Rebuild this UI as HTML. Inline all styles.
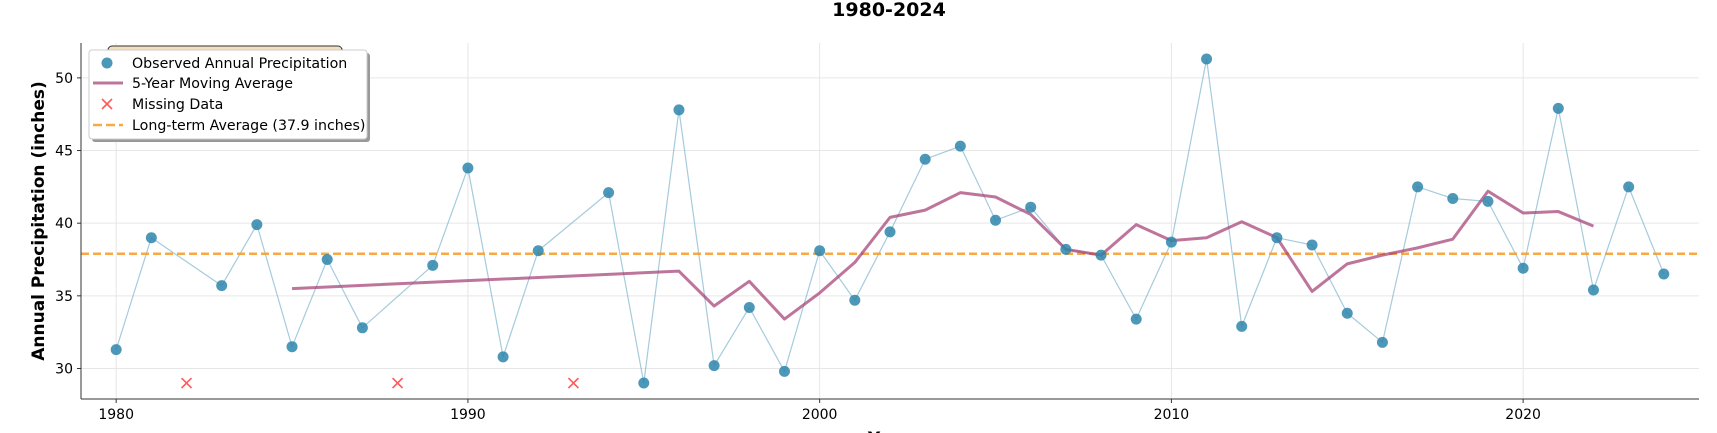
<!DOCTYPE html>
<html><head><meta charset="utf-8"><style>
html,body{margin:0;padding:0;background:#fff;}
svg{display:block;font-family:"DejaVu Sans","Liberation Sans",sans-serif;}
</style></head><body>
<svg id="chart" width="1717" height="433" viewBox="0 0 1717 433" xmlns="http://www.w3.org/2000/svg">
<text x="889" y="16" text-anchor="middle" font-size="19" font-weight="bold">1980-2024</text>
<g id="grid"></g>
<g id="yticks"></g>
<g id="xticks"></g>
<text transform="translate(44,221) rotate(-90)" text-anchor="middle" font-size="17" font-weight="bold">Annual Precipitation (inches)</text>
<text x="889" y="444" text-anchor="middle" font-size="17" font-weight="bold">Year</text>
<g id="marks"></g>
<line x1="81" y1="43" x2="81" y2="399" stroke="#333" stroke-width="1"/>
<line x1="81" y1="399" x2="1699" y2="399" stroke="#333" stroke-width="1"/>
<g>
  <rect x="109" y="47" width="234" height="94" rx="4" fill="#6f6258"/>
  <rect x="108" y="46" width="234" height="93" rx="4" fill="#f3dfc0" stroke="#333"/>
  <rect x="92" y="53" width="278" height="89" rx="3" fill="#999"/>
  <rect x="89" y="50" width="278" height="89" rx="3" fill="#fff" stroke="#ccc"/>
  <circle cx="107" cy="63" r="5.5" fill="#2e86ab" fill-opacity="0.85"/>
  <text x="132" y="68" font-size="14.2">Observed Annual Precipitation</text>
  <line x1="93" y1="83" x2="123" y2="83" stroke="#a23b72" stroke-opacity="0.7" stroke-width="3"/>
  <text x="132" y="88" font-size="14.2">5-Year Moving Average</text>
  <path d="M102 99 L112 109 M112 99 L102 109" stroke="#ff5a5a" stroke-width="1.6"/>
  <text x="132" y="109" font-size="14.2">Missing Data</text>
  <line x1="93" y1="125" x2="123" y2="125" stroke="#f5a030" stroke-opacity="0.9" stroke-width="2.5" stroke-dasharray="9,4"/>
  <text x="132" y="130" font-size="14.2">Long-term Average (37.9 inches)</text>
</g>
</svg>
<script>
const years=[1980,1981,1983,1984,1985,1986,1987,1989,1990,1991,1992,1994,1995,1996,1997,1998,1999,2000,2001,2002,2003,2004,2005,2006,2007,2008,2009,2010,2011,2012,2013,2014,2015,2016,2017,2018,2019,2020,2021,2022,2023,2024];
const precip=[31.3,39.0,35.7,39.9,31.5,37.5,32.8,37.1,43.8,30.8,38.1,42.1,29.0,47.8,30.2,34.2,29.8,38.1,34.7,39.4,44.4,45.3,40.2,41.1,38.2,37.8,33.4,38.7,51.3,32.9,39.0,38.5,33.8,31.8,42.5,41.7,41.5,36.9,47.9,35.4,42.5,36.5];
const maYears=[1985,1996,1997,1998,1999,2000,2001,2002,2003,2004,2005,2006,2007,2008,2009,2010,2011,2012,2013,2014,2015,2016,2017,2018,2019,2020,2021,2022];
const maValues=[35.5,36.7,34.3,36.0,33.4,35.2,37.3,40.4,40.9,42.1,41.8,40.6,38.2,37.8,39.9,38.8,39.0,40.1,39.0,35.3,37.2,37.8,38.3,38.9,42.2,40.7,40.8,39.8];
const missingYears=[1982,1988,1993];
const missingLevel=29.0;
const longTermAvg=37.9;
const xTicks=[1980,1990,2000,2010,2020];
const yTicks=[30,35,40,45,50];

const NS="http://www.w3.org/2000/svg";
const X0=81,X1=1699,XMIN=1979.0,XMAX=2025.0;
const Y0=399,Y1=43,YMIN=27.9,YMAX=52.4;
function xs(v){return X0+(v-XMIN)/(XMAX-XMIN)*(X1-X0);}
function ys(v){return Y0-(v-YMIN)/(YMAX-YMIN)*(Y0-Y1);}
function mk(tag,attrs,parent){const e=document.createElementNS(NS,tag);for(const k in attrs)e.setAttribute(k,attrs[k]);parent.appendChild(e);return e;}
const grid=document.getElementById('grid'),yt=document.getElementById('yticks'),xt=document.getElementById('xticks'),marks=document.getElementById('marks');

yTicks.forEach(v=>{
  const g=mk('line',{x1:X0,x2:X1,y1:ys(v),y2:ys(v),stroke:'#e6e6e6','stroke-width':1},grid);
  
  
  const t=mk('line',{x1:X0-4,x2:X0,y1:ys(v),y2:ys(v),stroke:'#333'},yt);
  
  
  const l=mk('text',{x:X0-8,y:ys(v)+5,'text-anchor':'end','font-size':14},yt);
  l.textContent=v;
  
  
});
xTicks.forEach(v=>{
  const g=mk('line',{x1:xs(v),x2:xs(v),y1:Y1,y2:Y0,stroke:'#e6e6e6','stroke-width':1},grid);
  
  
  const t=mk('line',{x1:xs(v),x2:xs(v),y1:Y0,y2:Y0+4,stroke:'#333'},xt);
  
  
  const l=mk('text',{x:xs(v),y:Y0+20,'text-anchor':'middle','font-size':14},xt);
  l.textContent=v;
  
  
});

const obsLine=mk('polyline',{points:years.map((y,i)=>xs(y)+','+ys(precip[i])).join(' '),fill:'none',stroke:'#7fb5cf','stroke-opacity':0.7,'stroke-width':1.2},marks);



const avg=mk('line',{x1:X0,x2:X1,y1:ys(longTermAvg),y2:ys(longTermAvg),stroke:'#f5a030','stroke-opacity':0.9,'stroke-width':2.5,'stroke-dasharray':'8,4'},marks);



const ma=mk('polyline',{points:maYears.map((y,i)=>xs(y)+','+ys(maValues[i])).join(' '),fill:'none',stroke:'#a23b72','stroke-opacity':0.7,'stroke-width':3,'stroke-linejoin':'round'},marks);



years.forEach((y,i)=>{
  const c=mk('circle',{cx:xs(y),cy:ys(precip[i]),r:5.5,fill:'#2e86ab','fill-opacity':0.85},marks);
  
  
});
missingYears.forEach(y=>{
  const cx=xs(y),cy=ys(missingLevel);
  const p=mk('path',{d:`M${cx-5} ${cy-5} L${cx+5} ${cy+5} M${cx+5} ${cy-5} L${cx-5} ${cy+5}`,stroke:'#ff5a5a','stroke-width':1.6},marks);
  
  
});
</script>
</body></html>
